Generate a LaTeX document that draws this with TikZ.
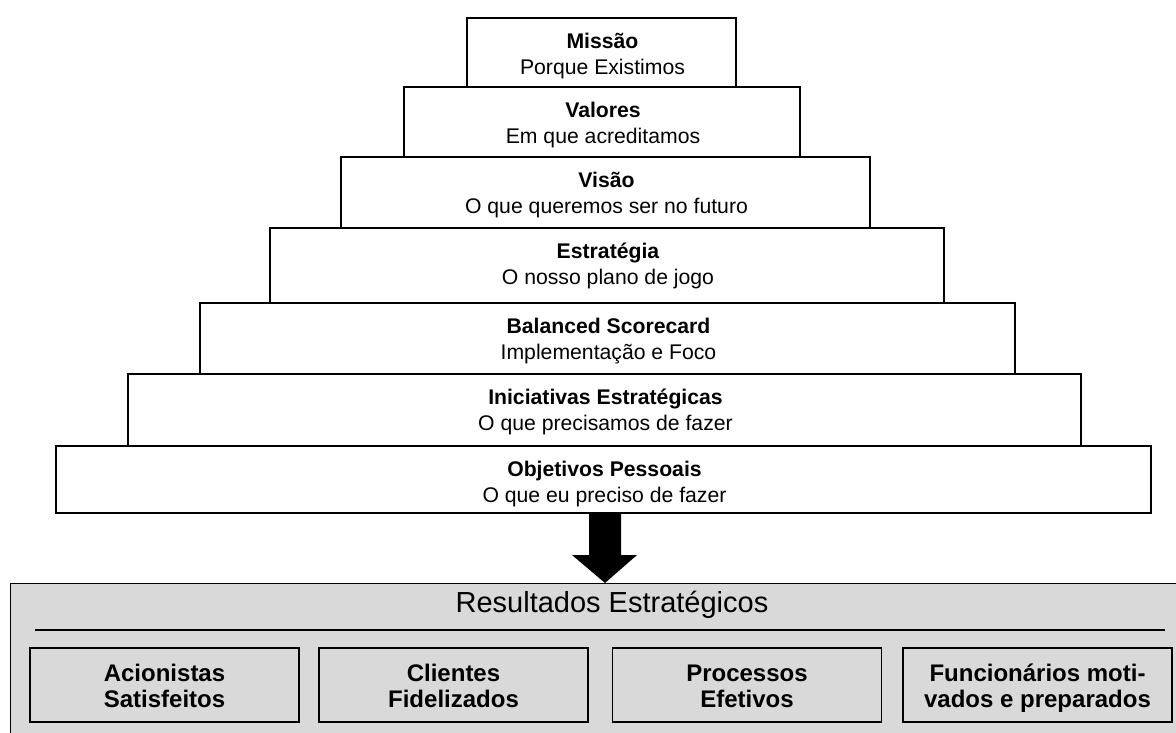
\documentclass[tikz,border=0pt]{standalone}
\usepackage{fontspec}
\setmainfont{Liberation Sans}
\usetikzlibrary{calc}

% one tier of the pyramid: name, left, right, top, bottom, title, subtitle
\newcommand\tierbox[7]{%
  \pgfmathsetmacro\tbw{#3-#2}%
  \pgfmathsetmacro\tbh{#5-#4}%
  \node[tier, minimum width=\tbw pt, minimum height=\tbh pt] (#1)
    at ({(#2+#3)/2},{(#4+#5)/2}) {};
  \node[tiertext, font=\fontsize{21.2}{25}\selectfont\bfseries] (#1-t)
    at ($(#1.north)+(1,31.5)$) {#6};
  \node[tiertext] (#1-s) at ($(#1.north)+(1,57)$) {#7};}

% one result box: name, centre x, first line, second line
\newcommand\goalbox[4]{%
  \node[goal] (#1) at (#2,685) {};
  \node[goaltext] (#1-a) at ($(#1.north)+(0,34)$) {#3};
  \node[goaltext] (#1-b) at ($(#1.north)+(0,60)$) {#4};}

\begin{document}
\begin{tikzpicture}[x=1pt,y=-1pt,
  tier/.style={draw=black, line width=1.3pt, fill=white, inner sep=0pt},
  tiertext/.style={anchor=base, inner sep=0pt, font=\fontsize{21.2}{25}\selectfont},
  goal/.style={draw=black, line width=1.8pt, fill=gray!30, inner sep=0pt,
    minimum width=269pt, minimum height=74pt},
  goaltext/.style={anchor=base, inner sep=0pt,
    font=\fontsize{24}{26}\selectfont\bfseries},
  panel/.style={draw=black, line width=1.3pt, fill=gray!30, inner sep=0pt}]

\clip (0,0) rectangle (1176,733);
\fill[white] (0,0) rectangle (1176,733);

% pyramid of tiers, top to bottom
\tierbox{missao}{467}{736}{18}{87}{Missão}{Porque Existimos}
\tierbox{valores}{404}{800}{87}{157}{Valores}{Em que acreditamos}
\tierbox{visao}{341}{870}{157}{228}{Visão}{O que queremos ser no futuro}
\tierbox{estrategia}{270}{944}{228}{303}{Estratégia}{O nosso plano de jogo}
\tierbox{bsc}{200}{1015}{303}{374}{Balanced Scorecard}{Implementação e Foco}
\tierbox{iniciativas}{128}{1081}{374}{446}{Iniciativas Estratégicas}{O que precisamos de fazer}
\tierbox{objetivos}{56}{1151}{446}{513}{Objetivos Pessoais}{O que eu preciso de fazer}

% results panel
\node[panel, minimum width=1180pt, minimum height=170pt, anchor=north west]
  (res) at (10,583) {};
\node[anchor=base, inner sep=0pt, font=\fontsize{29}{34}\selectfont]
  (restitle) at (612,612) {Resultados Estratégicos};
\coordinate (sepl) at (35,630);
\coordinate (sepr) at (1165,630);
\draw[line width=1.3pt] (sepl) -- (sepr);

\goalbox{acion}{164.5}{Acionistas}{Satisfeitos}
\goalbox{clien}{453.5}{Clientes}{Fidelizados}
\goalbox{proc}{747}{Processos}{Efetivos}
\goalbox{func}{1037.5}{Funcionários moti-}{vados e preparados}

% block arrow from the pyramid to the results
\path (objetivos.south) ++(1.5,0) coordinate (atop);
\path (res.north -| atop) coordinate (atip);
\fill[black] ($(atop)+(-16,0)$) -- ($(atop)+(16,0)$) -- ($(atip)+(16,-28)$)
  -- ($(atip)+(32,-28)$) -- (atip) -- ($(atip)+(-33,-28)$)
  -- ($(atip)+(-16,-28)$) -- cycle;
\end{tikzpicture}
\end{document}
